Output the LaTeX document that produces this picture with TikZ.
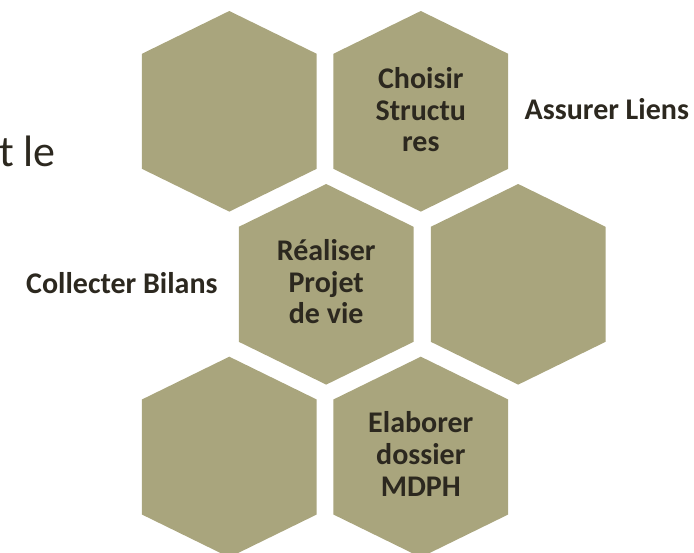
\documentclass[tikz,border=0pt]{standalone}
\usepackage{fontspec}
\setmainfont{Carlito}
\definecolor{hexcol}{RGB}{169,165,125}
\definecolor{txtcol}{RGB}{44,40,31}
\tikzset{
  hexfill/.style={fill=hexcol, draw=none},
  lbl/.style={inner sep=0pt, anchor=base, text=txtcol, font=\fontsize{30}{31.7}\selectfont\bfseries},
  side/.style={inner sep=0pt, anchor=base west, text=txtcol, font=\fontsize{30}{32}\selectfont\bfseries},
}
\newcommand{\hexagonat}[3]{%
  \coordinate (#1) at (#2,#3);
  \fill[hexfill] ([shift={(0,-100.3)}]#1) -- ([shift={(87.4,-57.5)}]#1) -- ([shift={(87.4,57.5)}]#1)
    -- ([shift={(0,100.3)}]#1) -- ([shift={(-87.4,57.5)}]#1) -- ([shift={(-87.4,-57.5)}]#1) -- cycle;
}
\begin{document}
\begin{tikzpicture}[x=1pt,y=-1pt]
\useasboundingbox (0,0) rectangle (694,552);
\clip (0,0) rectangle (694,552);
\hexagonat{tl}{229.3}{111.3}
\hexagonat{tr}{420.8}{111.3}
\hexagonat{ml}{326.2}{284.3}
\hexagonat{mr}{518.2}{284.3}
\hexagonat{bl}{229.3}{457}
\hexagonat{br}{420.8}{457}
% texts in hexagons
\node[lbl] (tra) at (420.8,88.3) {Choisir};
\node[lbl] (trb) at (420.8,120) {Structu};
\node[lbl] (trc) at (420.8,151.7) {res};
\node[lbl] (mla) at (326.2,260.5) {Réaliser};
\node[lbl] (mlb) at (326.2,292.2) {Projet};
\node[lbl] (mlc) at (326.2,323.9) {de vie};
\node[lbl] (bra) at (420.8,432.7) {Elaborer};
\node[lbl] (brb) at (420.8,464.4) {dossier};
\node[lbl] (brc) at (420.8,496.1) {MDPH};
% side labels
\node[side] (coll) at (26,293.3) {Collecter Bilans};
\node[side] (assu) at (524.5,119.3) {Assurer Liens};
% cut text at left
\node[inner sep=0pt, anchor=base west, text=txtcol, font=\fontsize{44}{48}\selectfont] (tle) at (-1,166.7) {t le};
\end{tikzpicture}
\end{document}
